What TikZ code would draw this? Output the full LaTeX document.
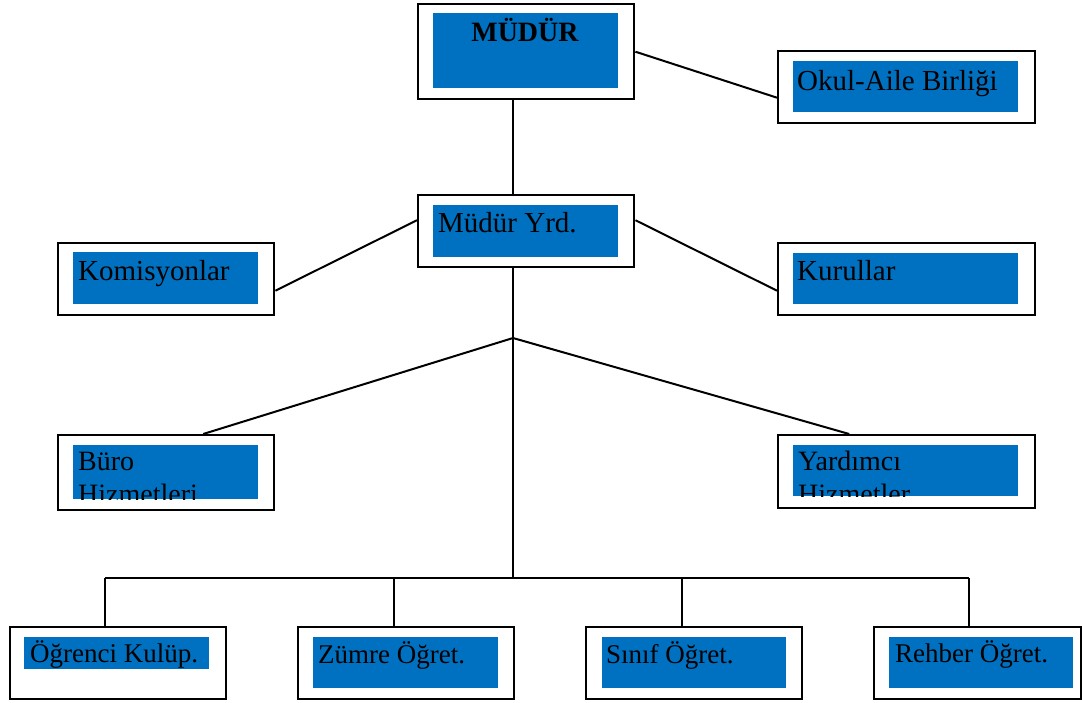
\documentclass[tikz,border=0pt]{standalone}
\usepackage{fontspec}
\setmainfont{Liberation Serif}
\definecolor{boxblue}{RGB}{0,112,192}
\tikzset{
  outerbox/.style={draw=black, fill=white, line width=2.4pt, inner sep=0pt, anchor=north west},
  innerbox/.style={fill=boxblue, inner sep=0pt, anchor=north west},
  lbl/.style={anchor=base west, inner sep=0pt, font=\fontsize{29}{34}\selectfont},
  conn/.style={line width=2pt},
}
\newcommand{\orgbox}[9]{%
  % #1 name, #2 x, #3 y, #4 w, #5 h, #6 ix, #7 iy, #8 iw, #9 ih
  \node[outerbox, minimum width=#4pt, minimum height=#5pt] (#1) at (#2,#3) {};
  \node[innerbox, minimum width=#8pt, minimum height=#9pt] (#1-in) at (#6,#7) {};
}
\begin{document}
\begin{tikzpicture}[x=1pt,y=-1pt]
\useasboundingbox (0,0) rectangle (1082,702);

\coordinate (spine) at (513,0);
\coordinate (branch) at (513,338);
\coordinate (hbarL) at (105,578);
\coordinate (hbarR) at (969,578);
\coordinate (hbarM) at (513,578);

% boxes
\orgbox{mudur}{417}{3}{216}{95}{433}{13}{185}{75}
\orgbox{okul}{777}{50}{257}{72}{793}{61}{225}{51}
\orgbox{yrd}{417}{194}{216}{72}{433}{205}{185}{52}
\orgbox{kom}{57}{242}{216}{72}{73}{252}{185}{52}
\orgbox{kur}{777}{242}{257}{72}{793}{253}{225}{51}
\orgbox{buro}{57}{434}{216}{75}{73}{445}{185}{54}
\orgbox{yard}{777}{434}{257}{73}{793}{445}{225}{51}
\orgbox{ogr}{9}{626}{216}{72}{24}{637}{185}{32}
\orgbox{zum}{297}{626}{216}{72}{313}{637}{185}{51}
\orgbox{sin}{585}{626}{216}{72}{602}{637}{184}{51}
\orgbox{reh}{873}{626}{207}{72}{889}{637}{184}{51}

% connectors
\draw[conn] (mudur.east) -- ([yshift=-10.5pt]okul.west);
\draw[conn] (mudur.south -| spine) -- (yrd.north -| spine);
\draw[conn] ([yshift=11pt]yrd.west) -- ([yshift=-11.5pt]kom.east);
\draw[conn] ([yshift=11pt]yrd.east) -- ([yshift=-11.5pt]kur.west);
\draw[conn] (yrd.south -| spine) -- (hbarM);
\draw[conn] (branch) -- ([xshift=37pt]buro.north);
\draw[conn] (branch) -- ([xshift=-57.5pt]yard.north);
\draw[conn] (hbarL) -- (hbarR);
\draw[conn] (hbarL) -- (ogr.north -| hbarL);
\draw[conn] ([xshift=-12pt]zum.north |- hbarM) -- ([xshift=-12pt]zum.north);
\draw[conn] ([xshift=-12pt]sin.north |- hbarM) -- ([xshift=-12pt]sin.north);
\draw[conn] (hbarR) -- (reh.north -| hbarR);

% labels
\node[lbl, anchor=base, font=\fontsize{28}{34}\selectfont\bfseries] (t-mudur) at (525,41) {MÜDÜR};
\node[lbl] (t-okul) at (797,90) {Okul-Aile Birliği};
\node[lbl] (t-yrd) at (438,232) {Müdür Yrd.};
\node[lbl] (t-kom) at (78,280) {Komisyonlar};
\node[lbl] (t-kur) at (797,280) {Kurullar};
\begin{scope}
  \clip (buro-in.north west) rectangle (buro-in.south east);
  \node[lbl, font=\fontsize{28}{34}\selectfont] (t-buro1) at (78,470) {Büro};
  \node[lbl, font=\fontsize{28}{34}\selectfont] (t-buro2) at (78,503) {Hizmetleri};
\end{scope}
\begin{scope}
  \clip (yard-in.north west) rectangle (yard-in.south east);
  \node[lbl, font=\fontsize{28}{34}\selectfont] (t-yard1) at (798,470) {Yardımcı};
  \node[lbl, font=\fontsize{28}{34}\selectfont] (t-yard2) at (798,503) {Hizmetler};
\end{scope}
\node[lbl, font=\fontsize{27}{30}\selectfont] (t-ogr) at (30,662) {Öğrenci Kulüp.};
\node[lbl, font=\fontsize{27}{30}\selectfont] (t-zum) at (318,663) {Zümre Öğret.};
\node[lbl, font=\fontsize{27}{30}\selectfont] (t-sin) at (606,663) {Sınıf Öğret.};
\node[lbl, font=\fontsize{27}{30}\selectfont] (t-reh) at (895,662) {Rehber Öğret.};
\end{tikzpicture}
\end{document}
